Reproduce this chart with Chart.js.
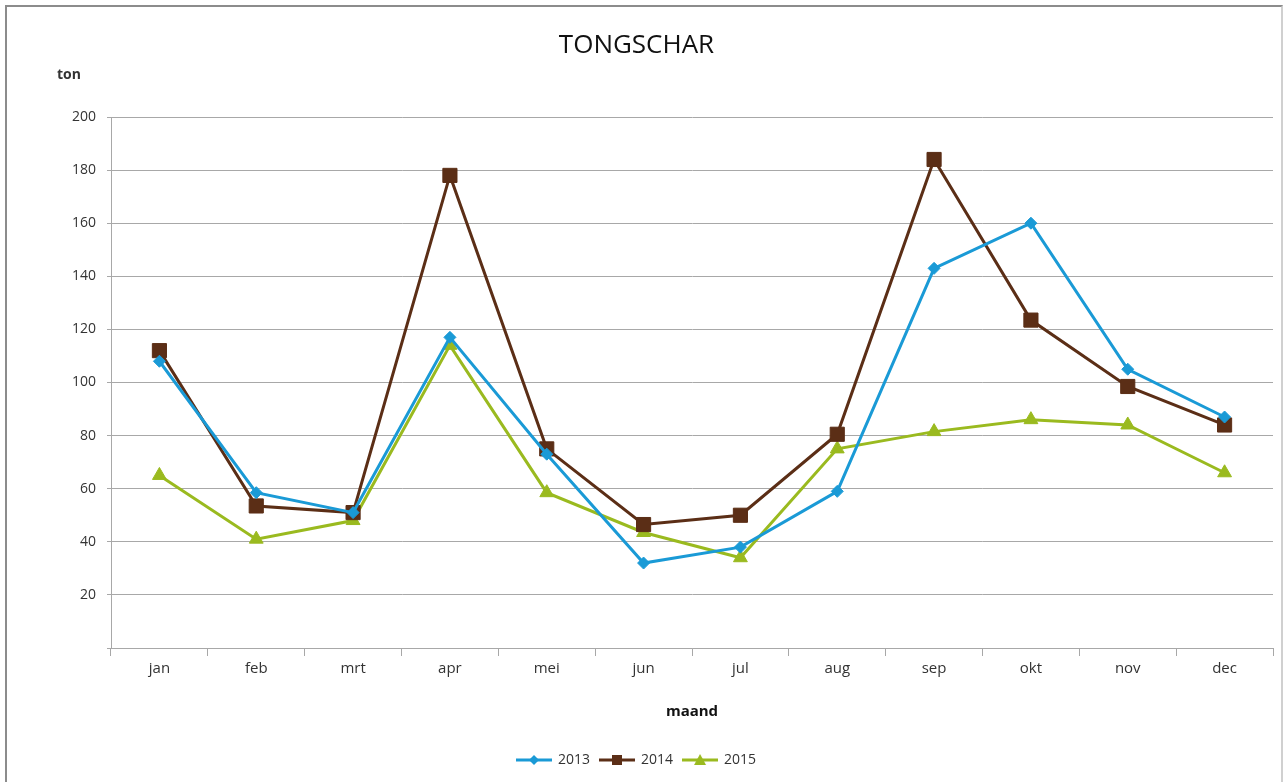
<!DOCTYPE html>
<html>
<head>
<meta charset="utf-8">
<script src="https://cdn.jsdelivr.net/npm/chart.js@4/dist/chart.umd.min.js"></script>
<style>
  html, body { margin: 0; padding: 0; background: #ffffff; }
  #wrap { position: relative; width: 1285px; height: 782px; overflow: hidden; }
  #frame { position: absolute; left: 5px; top: 5px; width: 1274px; height: 800px;
           border-top: 2px solid #8c8c8c; border-left: 2px solid #8c8c8c; border-right: 2px solid #d0d0d0; }
  canvas { position: absolute; left: 0; top: 0; }
</style>
</head>
<body>
<div id="wrap">
  <div id="frame"></div>
  <canvas id="c" width="1285" height="782"></canvas>
</div>
<script>
const categories = ['jan', 'feb', 'mrt', 'apr', 'mei', 'jun', 'jul', 'aug', 'sep', 'okt', 'nov', 'dec'];
const seriesNames = ['2013', '2014', '2015'];
const values2013 = [108, 58.5, 51, 117, 73, 32, 38, 59, 143, 160, 105, 87];
const values2014 = [112, 53.5, 51, 178, 75, 46.5, 50, 80.5, 184, 123.5, 98.5, 84];
const values2015 = [65, 41, 48, 114, 58.5, 43.5, 34, 75, 81.5, 86, 84, 66];
const yTicks = [0, 20, 40, 60, 80, 100, 120, 140, 160, 180, 200];

const FONT = "'Open Sans', 'Noto Sans', sans-serif";
const TXT = '#333333';
const GRID = '#a8a8a8';
const colors = ['#1a9ad6', '#5b2e16', '#9aba1f'];
const styles = ['rectRot', 'rect', 'triangle'];
const radii = [6, 10, 8];

function legendIcon(color, style) {
  const cv = document.createElement('canvas');
  cv.width = 36; cv.height = 16;
  const g = cv.getContext('2d');
  g.strokeStyle = color; g.fillStyle = color; g.lineWidth = 3;
  g.beginPath(); g.moveTo(0, 8); g.lineTo(36, 8); g.stroke();
  g.beginPath();
  if (style === 'rectRot') {
    g.moveTo(18, 3); g.lineTo(23, 8); g.lineTo(18, 13); g.lineTo(13, 8); g.closePath();
  } else if (style === 'rect') {
    g.rect(13, 3, 10, 10);
  } else {
    g.moveTo(18, 2); g.lineTo(24, 13); g.lineTo(12, 13); g.closePath();
  }
  g.fill();
  return cv;
}
const icons = colors.map((c, i) => legendIcon(c, styles[i]));

const allValues = [values2013, values2014, values2015];
const datasets = seriesNames.map((name, i) => ({
  label: name,
  data: allValues[i],
  borderColor: colors[i],
  backgroundColor: colors[i],
  borderWidth: 3,
  pointStyle: styles[i],
  pointRadius: radii[i],
  pointHoverRadius: radii[i],
  pointBackgroundColor: colors[i],
  pointBorderColor: colors[i],
  pointBorderWidth: 1,
  tension: 0,
  fill: false
}));

const extraText = {
  id: 'extraText',
  afterDraw(chart) {
    const ctx = chart.ctx;
    ctx.save();
    ctx.font = "bold 14px " + FONT;
    ctx.fillStyle = TXT;
    ctx.textAlign = 'left';
    ctx.textBaseline = 'middle';
    ctx.fillText('ton', 57, chart.chartArea.top - 42);
    ctx.restore();
  }
};

new Chart(document.getElementById('c'), {
  type: 'line',
  data: { labels: categories, datasets },
  plugins: [extraText],
  options: {
    responsive: false,
    animation: false,
    layout: { padding: { left: 0, right: 12, top: 0, bottom: 5 } },
    plugins: {
      title: {
        display: true,
        text: 'TONGSCHAR',
        color: '#111111',
        font: { family: FONT, size: 26, weight: 'normal', lineHeight: 1.2 },
        padding: { top: 30, bottom: 55.8 }
      },
      legend: {
        display: true,
        position: 'bottom',
        labels: {
          color: TXT,
          font: { family: FONT, size: 14 },
          usePointStyle: true,
          pointStyleWidth: 34,
          padding: 10,
          generateLabels(chart) {
            return chart.data.datasets.map((ds, i) => ({
              text: ds.label,
              fillStyle: ds.borderColor,
              strokeStyle: ds.borderColor,
              fontColor: TXT,
              lineWidth: 0,
              pointStyle: icons[i],
              hidden: false,
              datasetIndex: i
            }));
          }
        }
      },
      tooltip: { enabled: false }
    },
    scales: {
      x: {
        offset: true,
        grid: { display: true, offset: true, drawOnChartArea: false, drawTicks: true, tickLength: 8, color: GRID },
        border: { display: true, color: GRID, width: 1 },
        ticks: { color: TXT, font: { family: FONT, size: 15 }, padding: 4, maxRotation: 0 },
        title: {
          display: true, text: 'maand', color: '#111111',
          font: { family: FONT, size: 15, weight: 'bold', lineHeight: 1.2 },
          padding: { top: 0, bottom: 22 }
        },
        afterFit(scale) { scale.height = 95; }
      },
      y: {
        min: 0,
        max: 200,
        afterBuildTicks(scale) { scale.ticks = yTicks.map(v => ({ value: v })); },
        grid: { color: GRID, lineWidth: 1, drawTicks: true, tickLength: 4 },
        border: { display: true, color: GRID, width: 1 },
        ticks: {
          color: TXT, font: { family: FONT, size: 14 }, padding: 11,
          callback: (v) => (v === 0 ? '' : String(v))
        },
        afterFit(scale) { scale.width = 111; }
      }
    }
  }
});
</script>
</body>
</html>
